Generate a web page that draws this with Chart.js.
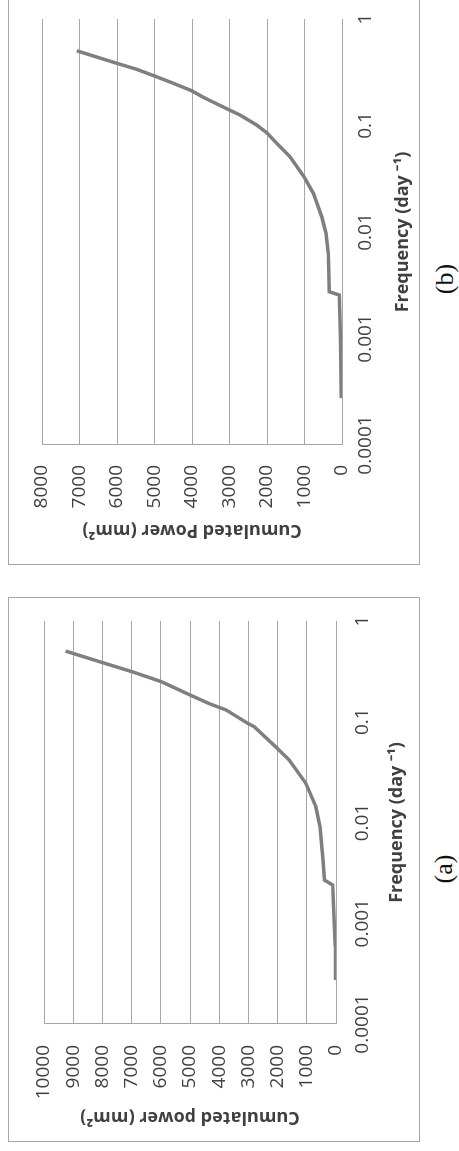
<!DOCTYPE html>
<html>
<head>
<meta charset="utf-8">
<script src="https://cdn.jsdelivr.net/npm/chart.js@4.4.0/dist/chart.umd.min.js"></script>
<style>
  body { margin: 0; background: #fff; width: 459px; height: 1151px; overflow: hidden; position: relative; }
  .frame { position: absolute; left: 8px; width: 412px; }
  .border { position: absolute; left: 0; top: 0; right: 0; bottom: 0; border: 1px solid #a6a6a6; box-sizing: border-box; pointer-events: none; }
  .rot { position: absolute; left: 0; top: 0; transform-origin: 0 0; }
  .tag { position: absolute; font-family: "Liberation Serif", serif; font-size: 26px; color: #111;
         transform: translate(-50%, -50%) rotate(-90deg); white-space: nowrap; }
</style>
</head>
<body>

<div class="frame" id="frameB" style="top:-6px; height:571px;">
  <div class="rot" style="width:571px; height:412px; transform: translateY(571px) rotate(-90deg);">
    <canvas id="chartB" width="571" height="412"></canvas>
  </div>
  <div class="border"></div>
</div>
<div class="tag" style="left:445px; top:279px;">(b)</div>

<div class="frame" id="frameA" style="top:597px; height:545px;">
  <div class="rot" style="width:545px; height:412px; transform: translateY(545px) rotate(-90deg);">
    <canvas id="chartA" width="545" height="412"></canvas>
  </div>
  <div class="border"></div>
</div>
<div class="tag" style="left:444px; top:869px;">(a)</div>

<script>
// tick labels of the log frequency axis
const freqTicks = [0.0001, 0.001, 0.01, 0.1, 1];
const powerStep = 1000;

// (a) cumulated power
const freqA  = [0.000273, 0.000585, 0.001, 0.002, 0.0024, 0.00268, 0.00425, 0.00908, 0.0144, 0.0245, 0.0417, 0.0545,
                0.0893, 0.0966, 0.131, 0.15, 0.184, 0.25, 0.314, 0.394, 0.503];
const powerA = [15, 25, 60, 100, 115, 393, 444, 546, 693, 1034, 1604, 2014,
                2799, 3027, 3765, 4311, 4993, 5983, 6986, 8089, 9260];
const powerMaxA = 10000;

// (b) cumulated power
const freqB  = [0.000275, 0.001, 0.0018, 0.00256, 0.00275, 0.0045, 0.0063, 0.00973, 0.0139, 0.0231, 0.033, 0.051,
                0.068, 0.0855, 0.101, 0.1256, 0.140, 0.184, 0.212, 0.249, 0.292, 0.337, 0.384, 0.503];
const powerB = [20, 40, 60, 72, 339, 352, 365, 427, 541, 765, 1013, 1387,
                1741, 2008, 2275, 2720, 3005, 3698, 4008, 4498, 5005, 5475, 6008, 7075];
const powerMaxB = 8000;

const tickFont = { family: '"Open Sans", sans-serif', size: 19 };
const titleFont = { family: '"Open Sans", sans-serif', size: 18, weight: 'bold' };
const textColor = '#404040';
const gridColor = '#a6a6a6';

function makeChart(id, freqs, powers, maxPower, yTitle, lay) {
  const points = freqs.map((f, i) => ({ x: f, y: powers[i] }));
  return new Chart(document.getElementById(id), {
    type: 'scatter',
    data: {
      datasets: [{
        data: points,
        showLine: true,
        borderColor: '#7f7f7f',
        borderWidth: 3.5,
        pointRadius: 0,
        tension: 0
      }]
    },
    options: {
      responsive: false,
      animation: false,
      layout: { padding: { left: 0, right: lay.right, top: lay.top, bottom: 0 } },
      plugins: { legend: { display: false }, tooltip: { enabled: false } },
      scales: {
        x: {
          type: 'logarithmic',
          min: 0.0001,
          max: 1,
          afterBuildTicks: scale => { scale.ticks = freqTicks.map(v => ({ value: v })); },
          afterFit: scale => { scale.height = lay.xHeight; },
          grid: { display: false, drawTicks: false },
          border: { display: false },
          ticks: {
            font: tickFont,
            color: textColor,
            padding: lay.xTickPad,
            maxRotation: 0,
            autoSkip: false,
            callback: v => String(v)
          },
          title: {
            display: true,
            text: 'Frequency (day ⁻¹)',
            font: titleFont,
            color: textColor,
            padding: { top: 0, bottom: lay.xTitlePad }
          }
        },
        y: {
          min: 0,
          max: maxPower,
          afterFit: scale => { scale.width = lay.yWidth; },
          grid: { color: gridColor, lineWidth: 1, drawTicks: false },
          border: { display: true, color: gridColor, width: 1 },
          ticks: {
            stepSize: powerStep,
            font: tickFont,
            color: textColor,
            padding: lay.yTickPad,
            callback: v => String(v)
          },
          title: {
            display: true,
            text: yTitle,
            font: titleFont,
            color: textColor,
            padding: { top: lay.yTitlePad, bottom: 0 }
          }
        }
      }
    }
  });
}

makeChart('chartB', freqB, powerB, powerMaxB, 'Cumulated Power (mm²)',
  { right: 25, top: 34, xHeight: 78, yWidth: 120, xTickPad: 12, yTickPad: 20, xTitlePad: 6, yTitlePad: 24 });
makeChart('chartA', freqA, powerA, powerMaxA, 'Cumulated power (mm²)',
  { right: 24, top: 36, xHeight: 84, yWidth: 118, xTickPad: 15, yTickPad: 21, xTitlePad: 12, yTitlePad: 14 });
</script>
</body>
</html>
